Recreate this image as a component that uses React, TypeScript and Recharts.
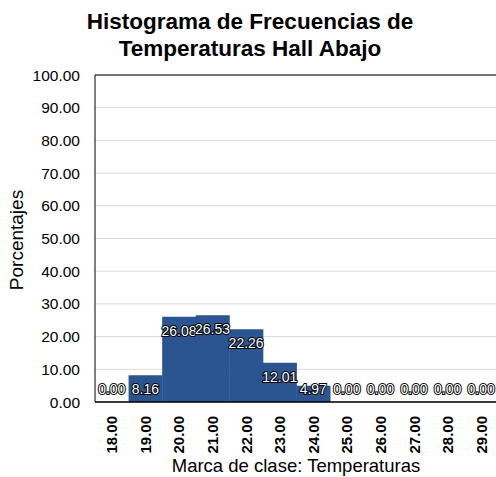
import React from "react";
import { ComposedChart, Bar, Line, XAxis, YAxis, CartesianGrid, ReferenceLine, LabelList } from "recharts";

const categories = ["18.00", "19.00", "20.00", "21.00", "22.00", "23.00", "24.00", "25.00", "26.00", "27.00", "28.00", "29.00"];
const percentages = [0, 8.16, 26.08, 26.53, 22.26, 12.01, 4.97, 0, 0, 0, 0, 0];
const yTicks = [0, 10, 20, 30, 40, 50, 60, 70, 80, 90, 100];

const data = categories.map((c, i) => ({ name: c, value: percentages[i] }));

const FONT = "'Liberation Sans', Arial, sans-serif";
const PLOT_BOTTOM = 402;

const XTick = (props: any) => {
  const { x, y, payload } = props;
  return (
    <text
      x={x}
      y={y + 6}
      transform={`rotate(-90, ${x}, ${y + 6})`}
      textAnchor="end"
      dominantBaseline="central"
      fontFamily={FONT}
      fontWeight="bold"
      fontSize={15}
      fill="#000"
    >
      {payload.value}
    </text>
  );
};

// x,y here are the point coords of the hidden line (bar center, bar top)
const ValueLabel = (props: any) => {
  const { x, y, value } = props;
  const ty = Math.min(y + 14, PLOT_BOTTOM - 13);
  return (
    <text
      x={x}
      y={ty}
      textAnchor="middle"
      dominantBaseline="central"
      fontFamily={FONT}
      fontSize={14}
      fill="#fff"
      stroke="#000"
      strokeWidth={2}
      paintOrder="stroke"
    >
      {Number(value).toFixed(2)}
    </text>
  );
};

export default function App() {
  return (
    <div style={{ position: "absolute", left: 0, top: 0, width: 496, height: 477, background: "#fff", fontFamily: FONT }}>
      <div
        style={{
          position: "absolute",
          left: 0,
          top: 8,
          width: 500,
          textAlign: "center",
          fontWeight: "bold",
          fontSize: 22.5,
          lineHeight: "27px",
          color: "#000",
        }}
      >
        Histograma de Frecuencias de
        <br />
        Temperaturas Hall Abajo
      </div>
      <div
        style={{
          position: "absolute",
          left: 17,
          top: 240,
          transform: "translate(-50%, -50%) rotate(-90deg)",
          fontSize: 19,
          whiteSpace: "nowrap",
          color: "#000",
        }}
      >
        Porcentajes
      </div>
      <div
        style={{
          position: "absolute",
          left: 296,
          top: 466,
          transform: "translate(-50%, -50%)",
          fontSize: 18.5,
          whiteSpace: "nowrap",
          color: "#000",
        }}
      >
        Marca de clase: Temperaturas
      </div>
      <ComposedChart
        width={498}
        height={477}
        data={data}
        barCategoryGap={0}
        margin={{ top: 75, right: 0, bottom: 0, left: 0 }}
        style={{ position: "absolute", left: 0, top: 0 }}
      >
        <CartesianGrid vertical={false} stroke="#d9d9d9" />
        <XAxis
          dataKey="name"
          height={75}
          tick={<XTick />}
          tickLine={false}
          axisLine={{ stroke: "#000", strokeWidth: 1.5 }}
          interval={0}
        />
        <YAxis
          width={95}
          domain={[0, 100]}
          ticks={yTicks}
          tickFormatter={(v: number) => v.toFixed(2)}
          tickLine={false}
          tickSize={0}
          tickMargin={15}
          axisLine={{ stroke: "#000", strokeWidth: 1 }}
          tick={{ fill: "#000", fontSize: 15.5, fontFamily: FONT }}
        />
        <ReferenceLine y={100} stroke="#000" strokeWidth={1} />
        <Bar dataKey="value" fill="#2b5591" isAnimationActive={false} />
        <Line dataKey="value" stroke="none" dot={false} activeDot={false} isAnimationActive={false}>
          <LabelList dataKey="value" content={<ValueLabel />} />
        </Line>
      </ComposedChart>
    </div>
  );
}
